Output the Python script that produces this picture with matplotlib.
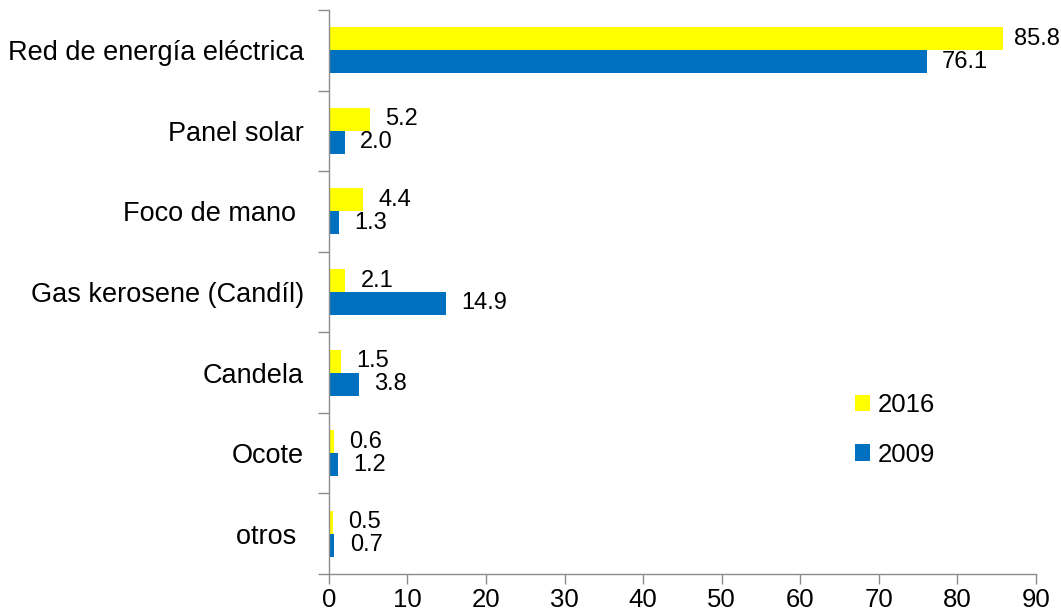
import numpy as np
import matplotlib
matplotlib.use("Agg")
import matplotlib.pyplot as plt

plt.rcParams['font.family'] = ['Liberation Sans', 'DejaVu Sans']

categories = ["Red de energía eléctrica", "Panel solar", "Foco de mano ",
              "Gas kerosene (Candíl)", "Candela", "Ocote", "otros "]
values_2016 = [85.8, 5.2, 4.4, 2.1, 1.5, 0.6, 0.5]
values_2009 = [76.1, 2.0, 1.3, 14.9, 3.8, 1.2, 0.7]
x_ticks = [0, 10, 20, 30, 40, 50, 60, 70, 80, 90]

yellow = '#FFFF00'
blue = '#0070C0'
axis_gray = '#8C8C8C'

fig = plt.figure(figsize=(10.61, 6.15), dpi=100)
ax = fig.add_axes([0.310, 0.0667, 0.6664, 0.917])

n = len(categories)
pos = np.arange(n)[::-1]
h = 0.285

bars16 = ax.barh(pos + h / 2, values_2016, height=h, color=yellow, label='2016')
bars09 = ax.barh(pos - h / 2, values_2009, height=h, color=blue, label='2009')

# value labels at the bar ends
for bars, vals in [(bars16, values_2016), (bars09, values_2009)]:
    for b, v in zip(bars, vals):
        ax.annotate(f"{v:.1f}", (v, b.get_y() + b.get_height() / 2),
                    xytext=(8 if v > 80 else 11, 0), textcoords='offset points',
                    ha='left', va='center', fontsize=17, color='black')

ax.set_xlim(0, 90)
ax.set_ylim(-0.5, n - 0.5)
ax.set_xticks(x_ticks)
ax.set_xticklabels([str(t) for t in x_ticks])
ax.tick_params(axis='x', length=7, width=1, color=axis_gray, labelsize=18.5, pad=3)

# category names at the centres, tick marks between categories
ax.set_yticks(pos)
ax.set_yticklabels(categories)
ax.tick_params(axis='y', which='major', length=0, labelsize=19.5, pad=18)
ax.set_yticks(np.arange(-0.5, n, 1.0), minor=True)
ax.tick_params(axis='y', which='minor', length=8, width=1, color=axis_gray)

for s in ['top', 'right']:
    ax.spines[s].set_visible(False)
for s in ['left', 'bottom']:
    ax.spines[s].set_color(axis_gray)
    ax.spines[s].set_linewidth(1)

ax.legend(loc='upper left', bbox_to_anchor=(0.711, 0.362), frameon=False,
          fontsize=18.5, handlelength=0.6, handleheight=0.6, handletextpad=0.3,
          labelspacing=1.0)

fig.savefig('out.png', dpi=100)
